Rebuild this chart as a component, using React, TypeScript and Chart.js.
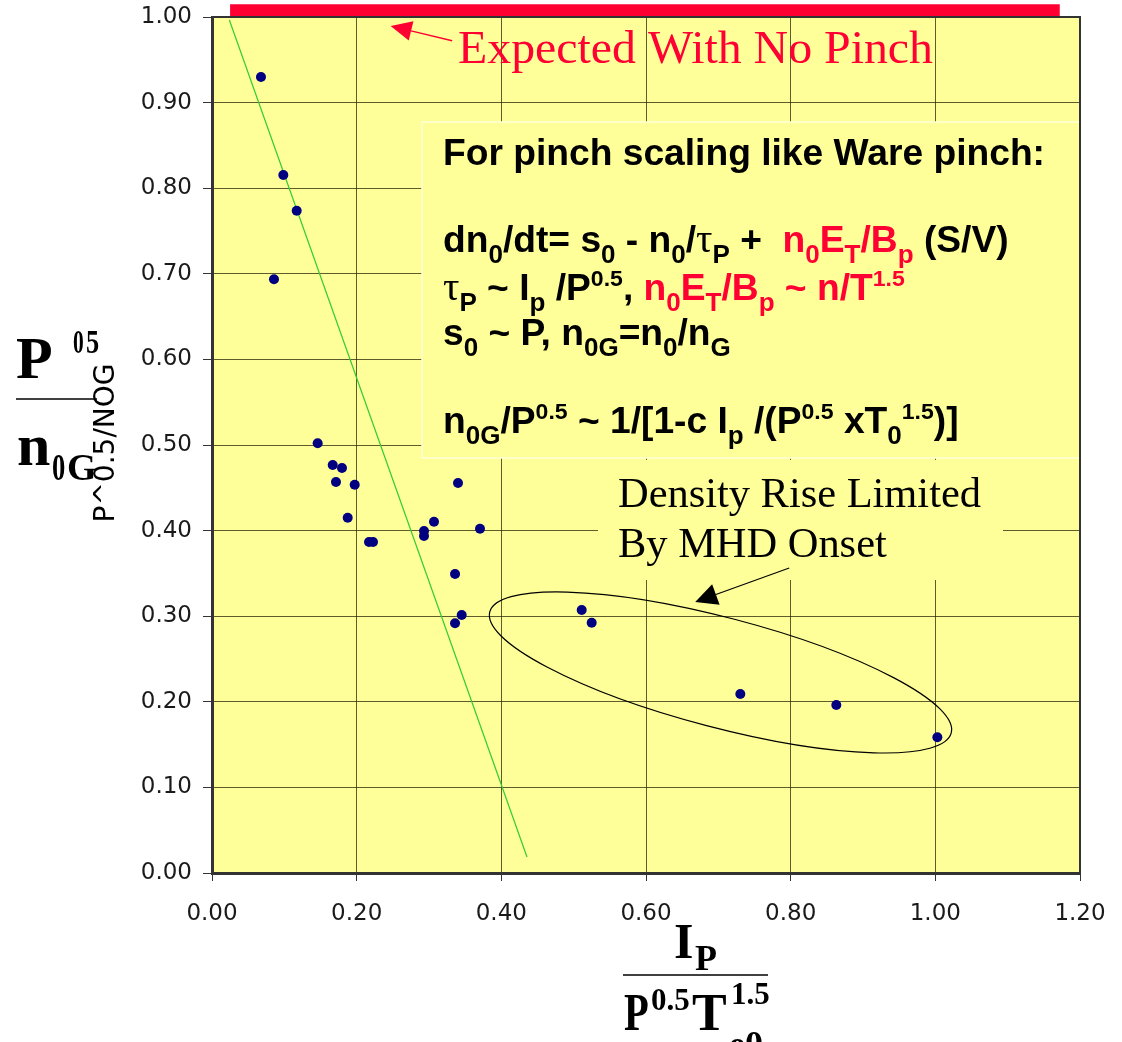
import React, { useEffect, useRef } from 'react';
import { Chart, registerables } from 'chart.js';

Chart.register(...registerables);

// ---- data ----
const IP_NORM = [
  0.0677, 0.0986, 0.1171, 0.0857, 0.1461, 0.1669, 0.1797, 0.1714, 0.1973, 0.1876,
  0.2171, 0.2226, 0.2931, 0.2931, 0.3069, 0.3401, 0.3705, 0.336, 0.3452, 0.336,
  0.5111, 0.5249, 0.7304, 0.8631, 1.0028,
];
const DENSITY_NORM = [
  0.93, 0.8154, 0.7737, 0.6936, 0.502, 0.4766, 0.4731, 0.4568, 0.4536, 0.4151,
  0.3867, 0.3867, 0.3995, 0.3937, 0.4104, 0.4556, 0.4022, 0.3493, 0.3014, 0.2917,
  0.3072, 0.2924, 0.2091, 0.1963, 0.1585,
];
const TREND_X = [0.024, 0.4355];
const TREND_Y = [0.9965, 0.0187];
const NO_PINCH_X = [0.025, 1.172];
const NO_PINCH_Y = [1.008, 1.008];

const X_TICKS = [0, 0.2, 0.4, 0.6, 0.8, 1.0, 1.2];
const Y_TICKS = [0, 0.1, 0.2, 0.3, 0.4, 0.5, 0.6, 0.7, 0.8, 0.9, 1.0];

const Y_TITLE = 'P^0.5/NOG';
const EXPECTED_LABEL = 'Expected With No Pinch';
const MHD_LABEL = ['Density Rise Limited', 'By MHD Onset'];

const RED = '#FF0033';

type Seg = { t: string; c?: string; s?: 'sub' | 'sup'; f?: string };

const FORMULA_LINES: Seg[][] = [
  [{ t: 'For pinch scaling like Ware pinch:' }],
  [
    { t: 'dn' }, { t: '0', s: 'sub' }, { t: '/dt= s' }, { t: '0', s: 'sub' }, { t: ' - n' },
    { t: '0', s: 'sub' }, { t: '/' }, { t: 'τ', f: 'serif' }, { t: 'P', s: 'sub' }, { t: ' +  ' },
    { t: 'n', c: RED }, { t: '0', s: 'sub', c: RED }, { t: 'E', c: RED }, { t: 'T', s: 'sub', c: RED },
    { t: '/B', c: RED }, { t: 'p', s: 'sub', c: RED }, { t: ' (S/V)' },
  ],
  [
    { t: 'τ', f: 'serif' }, { t: 'P', s: 'sub' }, { t: ' ~ I' }, { t: 'p', s: 'sub' }, { t: ' /P' },
    { t: '0.5', s: 'sup' }, { t: ', ' }, { t: 'n', c: RED }, { t: '0', s: 'sub', c: RED },
    { t: 'E', c: RED }, { t: 'T', s: 'sub', c: RED }, { t: '/B', c: RED }, { t: 'p', s: 'sub', c: RED },
    { t: ' ~ n/T', c: RED }, { t: '1.5', s: 'sup', c: RED },
  ],
  [
    { t: 's' }, { t: '0', s: 'sub' }, { t: ' ~ P, n' }, { t: '0G', s: 'sub' }, { t: '=n' },
    { t: '0', s: 'sub' }, { t: '/n' }, { t: 'G', s: 'sub' },
  ],
  [
    { t: 'n' }, { t: '0G', s: 'sub' }, { t: '/P' }, { t: '0.5', s: 'sup' }, { t: ' ~ 1/[1-c I' },
    { t: 'p', s: 'sub' }, { t: ' /(P' }, { t: '0.5', s: 'sup' }, { t: ' xT' }, { t: '0', s: 'sub' },
    { t: '1.5', s: 'sup' }, { t: ')]' },
  ],
];
const FORMULA_BASELINES = [165, 252, 300, 345, 433];

const SANS_BOLD = '"Liberation Sans", Arial, sans-serif';
const SERIF = '"Liberation Serif", "Times New Roman", serif';

function richWidth(ctx: CanvasRenderingContext2D, segs: Seg[], size: number) {
  let w = 0;
  for (const seg of segs) {
    const sz = seg.s ? size * (seg.s === 'sub' ? 0.7 : 0.62) : size;
    ctx.font = seg.f ? `normal ${sz}px ${SERIF}` : `bold ${sz}px ${SANS_BOLD}`;
    w += ctx.measureText(seg.t).width;
  }
  return w;
}

function drawRich(ctx: CanvasRenderingContext2D, segs: Seg[], x: number, y: number, size: number, sx: number) {
  ctx.save();
  ctx.translate(x, y);
  ctx.scale(sx, 1);
  ctx.textAlign = 'left';
  ctx.textBaseline = 'alphabetic';
  let cx = 0;
  for (const seg of segs) {
    const sz = seg.s ? size * (seg.s === 'sub' ? 0.7 : 0.62) : seg.f ? size * 1.1 : size;
    const dy = seg.s === 'sub' ? size * 0.3 : seg.s === 'sup' ? -size * 0.39 : 0;
    ctx.font = seg.f ? `normal ${sz}px ${SERIF}` : `bold ${sz}px ${SANS_BOLD}`;
    ctx.fillStyle = seg.c || '#000';
    ctx.fillText(seg.t, cx, dy);
    cx += ctx.measureText(seg.t).width;
  }
  ctx.restore();
}

function arrow(ctx: CanvasRenderingContext2D, tx: number, ty: number, hx: number, hy: number, color: string, lw: number, headLen: number, headHalf: number) {
  const ang = Math.atan2(hy - ty, hx - tx);
  const bx = hx - Math.cos(ang) * headLen;
  const by = hy - Math.sin(ang) * headLen;
  ctx.save();
  ctx.strokeStyle = color;
  ctx.fillStyle = color;
  ctx.lineWidth = lw;
  ctx.beginPath();
  ctx.moveTo(tx, ty);
  ctx.lineTo(bx, by);
  ctx.stroke();
  ctx.beginPath();
  ctx.moveTo(hx, hy);
  ctx.lineTo(bx + Math.sin(ang) * headHalf, by - Math.cos(ang) * headHalf);
  ctx.lineTo(bx - Math.sin(ang) * headHalf, by + Math.cos(ang) * headHalf);
  ctx.closePath();
  ctx.fill();
  ctx.restore();
}

function condensed(ctx: CanvasRenderingContext2D, text: string, x: number, y: number, font: string, sx: number) {
  ctx.save();
  ctx.translate(x, y);
  ctx.scale(sx, 1);
  ctx.font = font;
  ctx.fillText(text, 0, 0);
  ctx.restore();
}

const backgroundPlugin = {
  id: 'bg',
  beforeDraw(chart: any) {
    const { ctx, chartArea: a } = chart;
    ctx.save();
    ctx.fillStyle = '#ffffff';
    ctx.fillRect(0, 0, chart.width, chart.height);
    ctx.fillStyle = '#FFFF99';
    ctx.fillRect(a.left, a.top, a.right - a.left, a.bottom - a.top);
    ctx.restore();
  },
};

const boxesPlugin = {
  id: 'boxes',
  beforeDatasetsDraw(chart: any) {
    const { ctx } = chart;
    ctx.save();
    // formula box
    ctx.fillStyle = '#FFFF99';
    ctx.fillRect(422, 122, 658, 336);
    ctx.strokeStyle = 'rgba(255,255,215,1)';
    ctx.lineWidth = 1.5;
    ctx.strokeRect(422, 122, 658, 336);
    // MHD label box
    ctx.fillStyle = '#FFFF99';
    ctx.fillRect(598, 460, 405, 120);
    ctx.restore();
  },
};

const annotationsPlugin = {
  id: 'annot',
  afterDatasetsDraw(chart: any) {
    const { ctx, chartArea: a } = chart;
    const xs = chart.scales.x;
    const ys = chart.scales.y;
    const px = (v: number) => xs.getPixelForValue(v);
    const py = (v: number) => ys.getPixelForValue(v);
    ctx.save();

    // frame top / right
    ctx.strokeStyle = '#333';
    ctx.lineWidth = 2;
    ctx.beginPath();
    ctx.moveTo(a.left, a.top);
    ctx.lineTo(a.right, a.top);
    ctx.lineTo(a.right, a.bottom);
    ctx.stroke();

    // formula text
    const w0 = richWidth(ctx, FORMULA_LINES[0], 36);
    const sx = 602 / w0;
    FORMULA_LINES.forEach((segs, i) => drawRich(ctx, segs, 443, FORMULA_BASELINES[i], 36, sx));

    // Expected With No Pinch
    ctx.font = `46px ${SERIF}`;
    ctx.fillStyle = RED;
    ctx.textBaseline = 'alphabetic';
    ctx.textAlign = 'left';
    const we = ctx.measureText(EXPECTED_LABEL).width;
    condensed(ctx, EXPECTED_LABEL, 458, 63, `46px ${SERIF}`, 475 / we);
    arrow(ctx, px(0.332), py(0.9723), px(0.247), py(0.9895), RED, 1.5, 21, 10);

    // MHD label
    ctx.font = `42px ${SERIF}`;
    ctx.fillStyle = '#000';
    const wm = ctx.measureText(MHD_LABEL[0]).width;
    MHD_LABEL.forEach((t, i) => condensed(ctx, t, 618, 507 + i * 50, `42px ${SERIF}`, 363 / wm));
    arrow(ctx, px(0.798), py(0.3563), px(0.668), py(0.3166), '#000', 1.2, 22, 11);

    // ellipse around MHD-limited points
    const x1 = px(0.384), y1 = py(0.305), x2 = px(1.022), y2 = py(0.1636);
    const cx = (x1 + x2) / 2, cy = (y1 + y2) / 2;
    const ra = Math.hypot(x2 - x1, y2 - y1) / 2;
    const rot = Math.atan2(y2 - y1, x2 - x1);
    ctx.beginPath();
    ctx.ellipse(cx, cy, ra, 55, rot, 0, Math.PI * 2);
    ctx.strokeStyle = '#000';
    ctx.lineWidth = 1.2;
    ctx.stroke();

    ctx.restore();
  },
  afterDraw(chart: any) {
    const { ctx } = chart;
    ctx.save();
    ctx.fillStyle = '#000';
    ctx.strokeStyle = '#000';
    ctx.textBaseline = 'alphabetic';
    ctx.textAlign = 'left';
    // left big fraction
    ctx.font = `bold 60px ${SERIF}`;
    ctx.fillText('P', 16, 378);
    condensed(ctx, '0', 73, 353, `bold 33px ${SERIF}`, 0.65);
    condensed(ctx, '5', 86, 353, `bold 33px ${SERIF}`, 0.8);
    ctx.lineWidth = 1.5;
    ctx.beginPath();
    ctx.moveTo(16, 399);
    ctx.lineTo(97, 399);
    ctx.stroke();
    ctx.font = `bold 60px ${SERIF}`;
    ctx.fillText('n', 17, 465);
    condensed(ctx, '0', 52, 480, `bold 38px ${SERIF}`, 0.7);
    ctx.font = `bold 38px ${SERIF}`;
    ctx.fillText('G', 67, 480);
    // rotated y title
    ctx.save();
    ctx.translate(107, 443);
    ctx.rotate(-Math.PI / 2);
    ctx.font = '28px "DejaVu Sans", sans-serif';
    ctx.textAlign = 'center';
    ctx.textBaseline = 'middle';
    ctx.fillText(Y_TITLE, 0, 0);
    ctx.restore();

    // bottom fraction
    ctx.font = `bold 50px ${SERIF}`;
    ctx.fillText('I', 674, 958);
    ctx.font = `bold 36px ${SERIF}`;
    ctx.fillText('P', 695, 970);
    ctx.beginPath();
    ctx.moveTo(623, 975);
    ctx.lineTo(768, 975);
    ctx.stroke();
    condensed(ctx, 'P', 624, 1030, `bold 52px ${SERIF}`, 0.78);
    ctx.font = `bold 31px ${SERIF}`;
    ctx.fillText('0.5', 651, 1010);
    ctx.font = `bold 52px ${SERIF}`;
    ctx.fillText('T', 692, 1030);
    ctx.font = `bold 31px ${SERIF}`;
    ctx.fillText('1.5', 731, 1004);
    ctx.font = `bold 36px ${SERIF}`;
    ctx.fillText('e0', 729, 1056);
    ctx.restore();
  },
};

export default function App() {
  const ref = useRef<HTMLCanvasElement>(null);
  useEffect(() => {
    document.body.style.margin = '0';
    const points = IP_NORM.map((x, i) => ({ x, y: DENSITY_NORM[i] }));
    const trend = TREND_X.map((x, i) => ({ x, y: TREND_Y[i] }));
    const bar = NO_PINCH_X.map((x, i) => ({ x, y: NO_PINCH_Y[i] }));
    const tickFont = { family: '"DejaVu Sans", sans-serif', size: 23 };
    const gridColor = 'rgba(30,30,0,0.72)';
    const chart = new Chart(ref.current!, {
      type: 'scatter',
      data: {
        datasets: [
          {
            label: 'P^0.5/NOG',
            data: points,
            backgroundColor: '#000080',
            borderColor: '#000080',
            borderWidth: 0,
            pointRadius: 5,
          },
          {
            label: 'trend',
            data: trend,
            showLine: true,
            borderColor: '#33CC33',
            borderWidth: 1.2,
            pointRadius: 0,
          },
          {
            label: 'no pinch',
            data: bar,
            showLine: true,
            borderColor: RED,
            borderWidth: 12,
            borderCapStyle: 'butt',
            pointRadius: 0,
            clip: false as any,
          },
        ],
      },
      options: {
        responsive: false,
        animation: false,
        devicePixelRatio: 1,
        layout: { padding: { top: 17, right: 42, left: 0, bottom: 0 } },
        plugins: { legend: { display: false }, tooltip: { enabled: false } },
        scales: {
          x: {
            type: 'linear',
            min: 0,
            max: 1.2,
            afterBuildTicks: (s: any) => {
              s.ticks = X_TICKS.map((v) => ({ value: v }));
            },
            afterFit: (s: any) => {
              s.height = 169;
              s.paddingLeft = 0;
              s.paddingRight = 0;
            },
            ticks: {
              callback: (v: any) => Number(v).toFixed(2),
              font: tickFont,
              color: '#1a1a1a',
              padding: 19,
              maxRotation: 0,
            },
            grid: { color: gridColor, lineWidth: 1, tickLength: 8, tickColor: '#333' },
            border: { color: '#333', width: 3 },
          },
          y: {
            type: 'linear',
            min: 0,
            max: 1,
            afterBuildTicks: (s: any) => {
              s.ticks = Y_TICKS.map((v) => ({ value: v }));
            },
            afterFit: (s: any) => {
              s.width = 212;
              s.paddingTop = 0;
              s.paddingBottom = 0;
            },
            ticks: {
              callback: (v: any) => Number(v).toFixed(2),
              font: tickFont,
              color: '#1a1a1a',
              padding: 11,
            },
            grid: { color: gridColor, lineWidth: 1, tickLength: 9, tickColor: '#333' },
            border: { color: '#333', width: 3 },
          },
        },
      },
      plugins: [backgroundPlugin, boxesPlugin, annotationsPlugin],
    });
    return () => chart.destroy();
  }, []);
  return (
    <canvas
      ref={ref}
      width={1122}
      height={1042}
      style={{ display: 'block', width: 1122, height: 1042 }}
    />
  );
}
